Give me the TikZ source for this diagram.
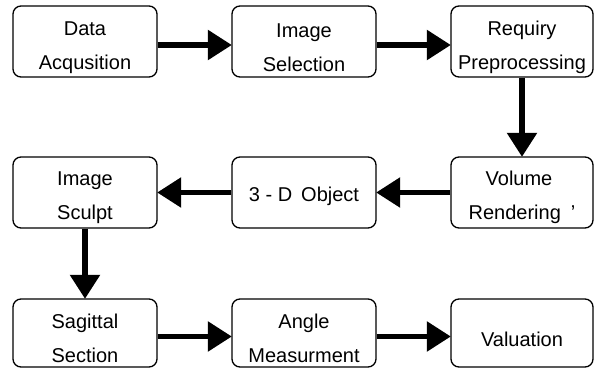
\documentclass[tikz,border=0pt]{standalone}
\usepackage{fontspec}
\setmainfont{Liberation Sans}
\usetikzlibrary{arrows.meta}
\tikzset{
  stagebox/.style={draw=black, line width=1.3pt, rounded corners=8pt,
    minimum width=144pt, minimum height=71pt, inner sep=0pt},
  stagetext/.style={align=center, inner sep=0pt,
    font=\fontsize{20}{34}\selectfont},
  flow/.style={line width=5.5pt,
    -{Triangle[length=24pt,width=29pt]}, shorten >=-0.5pt},
}
\begin{document}
\begin{tikzpicture}[x=1pt,y=-1pt]
\useasboundingbox (0,0) rectangle (598,369);

% row 1
\node[stagebox] (acq) at (85,41.5) {};
\node[stagebox] (sel) at (304,41.5) {};
\node[stagebox, minimum width=142pt] (pre) at (522,41.5) {};
% row 2
\node[stagebox] (sculpt) at (85,192.5) {};
\node[stagebox] (obj) at (304,192.5) {};
\node[stagebox, minimum width=142pt] (vol) at (522,192.5) {};
% row 3
\node[stagebox, minimum height=68pt] (sag) at (85,333) {};
\node[stagebox, minimum height=68pt] (ang) at (304,333) {};
\node[stagebox, minimum width=142pt, minimum height=68pt] (val) at (522,333) {};

% labels (set slightly below the box centres)
\node[stagetext] (tacq) at ([yshift=-6pt]acq.center) {Data\\Acqusition};
\node[stagetext] (tsel) at ([yshift=-6pt]sel.center) {Image\\Selection};
\node[stagetext] (tpre) at ([yshift=-6pt]pre.center) {Requiry\\Preprocessing};
\node[stagetext] (tsculpt) at ([yshift=-5pt]sculpt.center) {Image\\Sculpt};
\node[stagetext] (tobj) at ([yshift=-4pt]obj.center) {3 - D\hspace{0.45em}Object};
\node[stagetext] (tvol) at ([yshift=-5pt,xshift=-3pt]vol.center) {Volume\\\hspace*{6pt}Rendering\hspace{10pt}’};
\node[stagetext] (tsag) at ([yshift=-5pt]sag.center) {Sagittal\\Section};
\node[stagetext] (tang) at ([yshift=-5pt]ang.center) {Angle\\Measurment};
\node[stagetext] (tval) at ([yshift=-6pt]val.center) {Valuation};

% connectors
\draw[flow] ([yshift=-3.5pt]acq.east) -- ([yshift=-3.5pt]sel.west);
\draw[flow] ([yshift=-3.5pt]sel.east) -- ([yshift=-3.5pt]pre.west);
\draw[flow] (pre.south) -- (vol.north);
\draw[flow] (vol.west) -- (obj.east);
\draw[flow] (obj.west) -- (sculpt.east);
\draw[flow] (sculpt.south) -- (sag.north);
\draw[flow] ([yshift=-3.5pt]sag.east) -- ([yshift=-3.5pt]ang.west);
\draw[flow] ([yshift=-3.5pt]ang.east) -- ([yshift=-3.5pt]val.west);
\end{tikzpicture}
\end{document}
